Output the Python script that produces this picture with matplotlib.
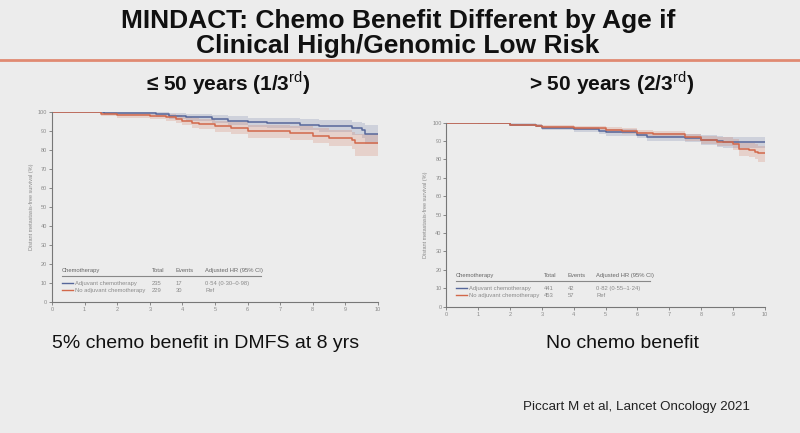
import matplotlib
matplotlib.use("Agg")
import matplotlib.pyplot as plt

# <= 50 years
young_adj_t = [0, 1.6, 3.2, 3.6, 4.1, 4.9, 5.4, 6.0, 6.6, 7.6, 8.2, 9.2, 9.5, 9.6, 10]
young_adj_s = [100, 99.5, 99.0, 98.2, 97.4, 96.5, 95.7, 94.7, 94.2, 93.6, 92.8, 91.5, 90.6, 88.4, 88.4]
young_adj_hi = [100, 100, 100, 99.6, 99.2, 98.5, 98.0, 97.2, 96.8, 96.4, 96.0, 95.0, 94.5, 93.2, 93.2]
young_adj_lo = [100, 98.8, 97.8, 96.6, 95.6, 94.4, 93.4, 92.2, 91.5, 90.7, 89.6, 87.9, 86.6, 83.5, 83.5]

young_no_t = [0, 1.5, 2.0, 3.0, 3.5, 3.8, 4.0, 4.3, 4.5, 5.0, 5.5, 6.0, 7.3, 8.0, 8.5, 9.2, 9.3, 10]
young_no_s = [100, 99.0, 98.4, 98.0, 97.4, 96.5, 95.6, 94.5, 93.8, 92.8, 91.7, 90.0, 89.0, 87.7, 86.6, 85.4, 83.6, 83.6]
young_no_hi = [100, 100, 99.6, 99.4, 99.0, 98.4, 97.8, 97.0, 96.4, 95.6, 94.8, 93.4, 92.6, 91.6, 90.8, 89.8, 88.6, 88.6]
young_no_lo = [100, 98.0, 97.0, 96.4, 95.6, 94.4, 93.2, 91.8, 91.0, 89.8, 88.4, 86.4, 85.2, 83.6, 82.2, 80.8, 77.0, 77.0]

# > 50 years
old_adj_t = [0, 1.0, 2.0, 2.8, 3.0, 4.0, 4.8, 5.0, 6.0, 6.3, 7.0, 7.5, 8.0, 8.5, 8.7, 10]
old_adj_s = [100, 99.7, 99.0, 98.4, 97.0, 96.4, 95.5, 94.7, 93.3, 92.4, 92.2, 91.8, 90.6, 89.8, 89.5, 89.5]
old_adj_hi = [100, 100, 99.6, 99.2, 98.2, 97.8, 97.0, 96.4, 95.2, 94.5, 94.4, 94.0, 93.2, 92.6, 92.4, 92.4]
old_adj_lo = [100, 99.3, 98.3, 97.5, 95.8, 95.0, 94.0, 93.0, 91.4, 90.3, 90.0, 89.6, 88.0, 87.0, 86.5, 86.5]

old_no_t = [0, 1.0, 2.0, 2.8, 3.0, 4.0, 5.0, 5.5, 6.0, 6.5, 7.0, 7.5, 8.0, 8.5, 9.0, 9.2, 9.5, 9.7, 9.8, 10]
old_no_s = [100, 99.8, 99.0, 98.4, 97.8, 97.0, 96.0, 95.5, 94.2, 93.8, 93.8, 92.0, 90.6, 89.7, 88.2, 85.5, 85.1, 84.2, 83.3, 83.3]
old_no_hi = [100, 100, 99.5, 99.2, 98.8, 98.2, 97.4, 97.0, 95.8, 95.6, 95.6, 94.0, 92.8, 92.0, 91.0, 89.0, 88.8, 88.2, 87.5, 87.5]
old_no_lo = [100, 99.5, 98.5, 97.6, 96.8, 95.8, 94.6, 94.0, 92.6, 92.0, 92.0, 90.0, 88.4, 87.4, 85.4, 82.0, 81.4, 80.2, 78.5, 78.5]

table_header = ["Chemotherapy", "Total", "Events", "Adjusted HR (95% CI)"]
young_rows = [["Adjuvant chemotherapy", "235", "17", "0·54 (0·30–0·98)"],
              ["No adjuvant chemotherapy", "229", "30", "Ref"]]
old_rows = [["Adjuvant chemotherapy", "441", "42", "0·82 (0·55–1·24)"],
            ["No adjuvant chemotherapy", "453", "57", "Ref"]]

bg = "#ececec"
blue = "#56679a"
red = "#d2684a"
grey = "#8a8a8a"

plt.rcParams['font.family'] = ['Liberation Sans', 'DejaVu Sans']
plt.rcParams['mathtext.fontset'] = 'custom'
plt.rcParams['mathtext.rm'] = 'Liberation Sans'

fig = plt.figure(figsize=(8, 4.33), dpi=100)
fig.patch.set_facecolor(bg)

# title and separator
fig.text(0.4975, 0.952, "MINDACT: Chemo Benefit Different by Age if", ha='center', va='center',
         fontsize=19, fontweight='bold', color='#111111')
fig.text(0.4975, 0.893, "Clinical High/Genomic Low Risk", ha='center', va='center',
         fontsize=19, fontweight='bold', color='#111111')
fig.add_artist(plt.Line2D([0, 1], [1 - 60 / 433] * 2, color='#e08a72', lw=2))

fig.text(0.285, 0.808, "≤ 50 years (1/3$^{\\mathrm{rd}}$)", ha='center', va='center',
         fontsize=15, fontweight='bold', color='#111111')
fig.text(0.765, 0.808, "> 50 years (2/3$^{\\mathrm{rd}}$)", ha='center', va='center',
         fontsize=15, fontweight='bold', color='#111111')


def km_panel(rect, curves, rows):
    ax = fig.add_axes(rect)
    ax.set_facecolor(bg)
    for t, s, lo, hi, c in curves:
        ax.fill_between(t, lo, hi, step='post', color=c, alpha=0.2, lw=0)
        ax.step(t, s, where='post', color=c, lw=1.1)
    ax.set_xlim(0, 10)
    ax.set_ylim(0, 100)
    ax.set_xticks(range(0, 11))
    ax.set_yticks(range(0, 101, 10))
    for sp in ['top', 'right']:
        ax.spines[sp].set_visible(False)
    for sp in ['left', 'bottom']:
        ax.spines[sp].set_color('#777777')
        ax.spines[sp].set_linewidth(0.8)
    ax.tick_params(colors='#777777', labelcolor=grey, labelsize=4, length=2.5, width=0.6, pad=1)
    ax.set_ylabel("Distant metastasis-free survival (%)", fontsize=4, color=grey, labelpad=3)
    # in-plot table
    cols = [0.3, 3.05, 3.8, 4.7]
    for x, h in zip(cols, table_header):
        ax.text(x, 16.8, h, fontsize=4.2, color='#666666', va='center')
    ax.plot([0.3, 6.4], [13.8, 13.8], color='#888888', lw=0.8)
    for y, row, c in zip([10, 6.2], rows, [blue, red]):
        ax.plot([0.3, 0.65], [y, y], color=c, lw=1)
        ax.text(0.7, y, row[0], fontsize=4.2, color=grey, va='center')
        for x, v in zip(cols[1:], row[1:]):
            ax.text(x, y, v, fontsize=4.2, color=grey, va='center')
    return ax


km_panel([0.065, 0.3025, 0.4075, 0.438],
         [(young_adj_t, young_adj_s, young_adj_lo, young_adj_hi, blue),
          (young_no_t, young_no_s, young_no_lo, young_no_hi, red)], young_rows)
km_panel([0.558, 0.2917, 0.398, 0.425],
         [(old_adj_t, old_adj_s, old_adj_lo, old_adj_hi, blue),
          (old_no_t, old_no_s, old_no_lo, old_no_hi, red)], old_rows)

fig.text(0.2575, 1 - 343 / 433, "5% chemo benefit in DMFS at 8 yrs", ha='center', va='center',
         fontsize=14, color='#111111')
fig.text(0.7775, 1 - 343 / 433, "No chemo benefit", ha='center', va='center',
         fontsize=14, color='#111111')
fig.text(0.9375, 1 - 407 / 433, "Piccart M et al, Lancet Oncology 2021", ha='right', va='center',
         fontsize=9.6, color='#222222')

fig.savefig("out.png", dpi=100, facecolor=bg)
